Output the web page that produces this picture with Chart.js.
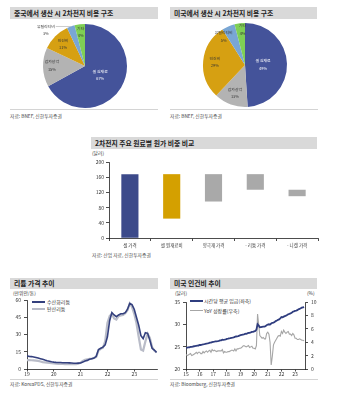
<!DOCTYPE html>
<html><head><meta charset="utf-8">
<script src="https://cdn.jsdelivr.net/npm/chart.js@4.4.0/dist/chart.umd.min.js"></script>
<style>
body{margin:0;width:340px;height:398px;background:#fff;position:relative;overflow:hidden;font-family:"Noto Sans CJK KR","Noto Sans",sans-serif;}
.t{position:absolute;background:#d9d9d9;font-weight:bold;font-size:6.8px;color:#222;padding-left:4px;box-sizing:border-box;white-space:nowrap;display:flex;align-items:center;}
.s{position:absolute;font-size:4.8px;color:#444;white-space:nowrap;line-height:6px}
.u{position:absolute;font-size:4.8px;color:#333;white-space:nowrap;line-height:6px}
.hr{position:absolute;height:0;border-top:0.7px solid #d4d4d4}
canvas{position:absolute}
.lg{position:absolute;font-size:5px;color:#333;line-height:6px;white-space:nowrap}
.ln{position:absolute;height:2px}
</style>
</head><body>
<div class="t" style="left:10px;top:7px;width:148px;height:12px">중국에서 생산 시 2차전지 비용 구조</div>
<div class="t" style="left:170px;top:7px;width:147px;height:12px">미국에서 생산 시 2차전지 비용 구조</div>
<div class="hr" style="left:10px;top:109px;width:148px"></div>
<div class="hr" style="left:170px;top:109px;width:148px"></div>
<div class="s" style="left:10px;top:113px">자료: BNEF, 신한투자증권</div>
<div class="s" style="left:170px;top:113px">자료: BNEF, 신한투자증권</div>

<div class="t" style="left:91px;top:137px;width:226px;height:11.5px">2차전지 주요 원료별 원가 비중 비교</div>
<div class="u" style="left:92px;top:150px">(달러)</div>
<div class="s" style="left:92px;top:252px">자료: 산업 자료, 신한투자증권</div>

<div class="t" style="left:10px;top:277.5px;width:148px;height:11px">리튬 가격 추이</div>
<div class="u" style="left:13px;top:290px">(만위안/톤)</div>
<div class="ln" style="left:32px;top:301px;width:13px;background:#34407e"></div>
<div class="lg" style="left:47px;top:299px">수산화리튬</div>
<div class="ln" style="left:32px;top:308px;width:13px;background:#b9bcc8"></div>
<div class="lg" style="left:47px;top:306px">탄산리튬</div>
<div class="hr" style="left:10px;top:379px;width:148px"></div>
<div class="s" style="left:10px;top:381px">자료: KoreaPDS, 신한투자증권</div>

<div class="t" style="left:170px;top:277.5px;width:147px;height:11px">미국 인건비 추이</div>
<div class="u" style="left:175px;top:290px">(달러)</div>
<div class="u" style="left:307px;top:290px">(%)</div>
<div class="ln" style="left:190px;top:300px;width:13px;background:#2f3d7f"></div>
<div class="lg" style="left:204px;top:298px">시간당 평균 임금(좌축)</div>
<div class="ln" style="left:190px;top:310px;width:13px;height:1.3px;background:#a6a6a6"></div>
<div class="lg" style="left:204px;top:308px">YoY 성장률(우축)</div>
<div class="hr" style="left:170px;top:379px;width:148px"></div>
<div class="s" style="left:170px;top:381px">자료: Bloomberg, 신한투자증권</div>

<script>
// ---------- DATA ----------
const pieLabels = ['셀 원재료','감가상각','인건비','유틸리티비','기타'];
const chinaCost = [67,15,11,3,4];
const usCost = [49,13,29,5,4];

const barCategories = ['셀 가격','셀 원재료비','양극재 가격','- 리튬 가격','- 니켈 가격'];
const barLow = [0,51,96,127,110];
const barHigh = [168,168,168,168,127];
const barTicks = [0,40,80,120,160,200];

const lithiumYears = [2019,2020,2021,2022,2023];
// monthly, Jan 2019 - Nov 2023
const lithiumHydroxide = [
 11.3,11.0,10.8,10.5,10.0,9.5,9.0,8.5,7.8,7.2,6.8,6.3,
 6.0,5.8,5.7,5.6,5.5,5.5,5.4,5.3,5.2,5.0,5.0,5.1,
 5.2,6.0,7.0,7.5,8.5,9.0,9.5,11.0,17.0,18.0,19.0,21.0,
 28.0,42.0,49.0,47.0,45.5,47.0,48.0,48.0,49.0,52.0,57.0,56.0,
 52.0,45.0,38.0,29.0,26.5,31.5,31.0,25.0,18.0,16.5,14.5];
const lithiumCarbonate = [
 7.8,7.7,7.6,7.5,7.3,7.0,6.5,6.0,5.8,5.5,5.3,5.0,
 4.8,4.6,4.5,4.5,4.4,4.3,4.3,4.2,4.2,4.2,4.3,4.6,
 5.5,7.0,8.0,8.5,8.8,9.0,9.5,10.5,16.0,17.5,18.5,24.0,
 40.0,46.0,48.0,44.0,43.0,46.0,46.5,47.0,48.5,51.0,57.0,54.0,
 48.0,40.0,28.0,17.0,16.0,24.0,30.5,27.0,19.0,16.0,14.5];

const wageYears = [2015,2016,2017,2018,2019,2020,2021,2022,2023];
// monthly, Jan 2015 - Sep 2023
const hourlyWage = [
 24.75,24.78,24.85,24.87,24.94,24.95,25.02,25.09,25.11,25.20,25.25,25.26,
 25.39,25.37,25.43,25.51,25.55,25.61,25.69,25.73,25.80,25.91,25.89,26.00,
 26.08,26.12,26.17,26.20,26.24,26.29,26.39,26.42,26.56,26.52,26.57,26.65,
 26.74,26.79,26.85,26.90,26.98,27.03,27.10,27.20,27.28,27.31,27.38,27.48,
 27.56,27.64,27.70,27.76,27.84,27.89,27.97,28.09,28.11,28.20,28.30,28.33,
 28.44,28.51,28.80,30.03,29.72,29.35,29.36,29.45,29.48,29.50,29.58,29.81,
 29.96,30.01,29.95,30.17,30.33,30.40,30.54,30.73,30.85,31.01,31.10,31.31,
 31.63,31.58,31.73,31.85,31.95,32.08,32.27,32.36,32.46,32.58,32.82,32.90,
 33.03,33.09,33.18,33.36,33.44,33.58,33.74,33.82,33.88];
const wageYoY = [
 2.2,2.0,2.1,2.2,2.3,2.0,2.1,2.2,2.3,2.5,2.3,2.5,
 2.5,2.3,2.3,2.6,2.4,2.6,2.7,2.5,2.7,2.8,2.5,2.9,
 2.7,2.8,2.7,2.6,2.7,2.7,2.7,2.7,2.9,2.4,2.6,2.5,
 2.5,2.6,2.6,2.7,2.8,2.8,2.7,3.0,2.7,3.0,3.0,3.1,
 3.1,3.2,3.4,3.5,3.4,3.3,3.4,3.5,3.2,3.3,3.4,3.1,
 3.1,3.0,3.5,8.2,6.6,5.0,4.8,4.6,4.7,4.5,4.5,5.3,
 5.5,5.2,4.0,0.6,1.9,3.6,4.0,4.3,4.6,4.9,5.0,4.9,
 5.6,5.3,5.8,5.5,5.3,5.5,5.6,5.2,5.2,5.0,5.3,5.1,
 4.6,4.6,4.4,4.4,4.5,4.4,4.3,4.3,4.2];

// ---------- STYLE ----------
const FONT = '"Noto Sans CJK KR","Noto Sans",sans-serif';
Chart.defaults.font.family = FONT;
Chart.defaults.font.size = 5;
Chart.defaults.color = '#333';
const pieColors = ['#44539a','#b3b3b3','#d6a012','#79a6d4','#7fcf55'];

function mk(left, top, w, h){
  const c = document.createElement('canvas');
  c.width = w; c.height = h;
  c.style.left = left+'px'; c.style.top = top+'px';
  c.style.width = w+'px'; c.style.height = h+'px';
  document.body.appendChild(c);
  return c;
}

const pieLabelPlugin = {
  id:'pieLabels',
  afterDatasetsDraw(chart, args, opts){
    const ctx = chart.ctx;
    const meta = chart.getDatasetMeta(0);
    const vals = chart.data.datasets[0].data;
    ctx.save();
    ctx.font = '3.9px ' + FONT;
    ctx.textAlign = 'center';
    ctx.textBaseline = 'middle';
    meta.data.forEach((arc, i) => {
      const p = opts.place[i];
      const mid = (arc.startAngle + arc.endAngle)/2;
      const l1 = chart.data.labels[i], l2 = vals[i] + '%';
      let x, y;
      if (p.leader){
        const ex = arc.x + Math.cos(mid)*arc.outerRadius;
        const ey = arc.y + Math.sin(mid)*arc.outerRadius;
        ctx.strokeStyle = '#999'; ctx.lineWidth = 0.5;
        ctx.beginPath(); ctx.moveTo(ex, ey); ctx.lineTo(ex - p.leader, ey); ctx.stroke();
        const w = ctx.measureText(l1).width;
        x = ex - p.leader - 1 - w/2; y = ey + 3.5;
      } else {
        x = arc.x + Math.cos(mid)*arc.outerRadius*p.f + (p.dx||0);
        y = arc.y + Math.sin(mid)*arc.outerRadius*p.f + (p.dy||0);
      }
      ctx.fillStyle = p.c || '#333';
      ctx.fillText(l1, x, y - 3.6);
      ctx.fillText(l2, x, y + 3.6);
    });
    ctx.restore();
  }
};

function pie(canvas, values, place, pad){
  new Chart(canvas, {
    type:'pie',
    data:{labels:pieLabels, datasets:[{data:values, backgroundColor:pieColors, borderWidth:0}]},
    options:{responsive:false, animation:false, layout:{padding:pad},
      plugins:{legend:{display:false}, tooltip:{enabled:false}, pieLabels:{place}}},
    plugins:[pieLabelPlugin]
  });
}

pie(mk(0,20,170,92), chinaCost, [
  {f:0.42, c:'#fff'}, {f:0.79, dy:-1.5}, {f:0.74}, {leader:15}, {f:0.82}
], {top:4,bottom:4});
pie(mk(160,20,170,92), usCost, [
  {f:0.43, c:'#fff'}, {f:0.71}, {f:0.72}, {f:0.74, dx:-9}, {f:0.85, dx:2}
], {top:3,bottom:5});

// ---------- BAR ----------
const axisCommon = {
  grid:{display:true, drawOnChartArea:false, drawTicks:true, tickLength:3, color:'#000', lineWidth:0.7},
  border:{display:true, color:'#000', width:0.7}
};
new Chart(mk(80,155,245,95), {
  type:'bar',
  data:{labels:barCategories, datasets:[{
    data:barLow.map((lo,i)=>[lo, barHigh[i]]),
    backgroundColor:['#3c4a8a','#d4a000','#a9a9a9','#a9a9a9','#a9a9a9'],
    borderWidth:0, barPercentage:0.41, categoryPercentage:1
  }]},
  options:{responsive:false, animation:false, layout:{padding:{top:7,right:7,left:0,bottom:0}},
    plugins:{legend:{display:false}, tooltip:{enabled:false}},
    scales:{
      x:{...axisCommon, grid:{...axisCommon.grid, offset:true}, ticks:{font:{size:4.5}, padding:1.5, maxRotation:0, autoSkip:false},
         afterFit:s=>{s.height=12;}},
      y:{...axisCommon, min:0, max:200, afterBuildTicks:s=>{s.ticks = barTicks.map(v=>({value:v}));},
         ticks:{font:{size:5}, padding:2}, afterFit:s=>{s.width=29;}}
    }}
});

// ---------- LITHIUM ----------
function monthly(start, arr){ return arr.map((v,i)=>({x:start + i/12, y:v})); }
new Chart(mk(0,290,165,91), {
  type:'line',
  data:{datasets:[
    {data:monthly(2019, lithiumHydroxide), borderColor:'#34407e', borderWidth:1.6, pointRadius:0, tension:0},
    {data:monthly(2019, lithiumCarbonate), borderColor:'#b9bcc8', borderWidth:2.2, pointRadius:0, tension:0}
  ]},
  options:{responsive:false, animation:false, layout:{padding:{top:10,right:8,left:0,bottom:0}},
    plugins:{legend:{display:false}, tooltip:{enabled:false}},
    scales:{
      x:{type:'linear', ...axisCommon, grid:{...axisCommon.grid, tickLength:2.5}, min:2019, max:2023.85,
         afterBuildTicks:s=>{s.ticks = lithiumYears.map(v=>({value:v}));},
         ticks:{padding:0, maxRotation:0, callback:v=>String(v).slice(2)}, afterFit:s=>{s.height=12;}},
      y:{...axisCommon, min:0, max:60, ticks:{stepSize:15, padding:3}, afterFit:s=>{s.width=27;}}
    }}
});

// ---------- WAGE ----------
new Chart(mk(165,290,165,91), {
  type:'line',
  data:{datasets:[
    {data:monthly(2015, hourlyWage), yAxisID:'y', borderColor:'#2f3d7f', borderWidth:1.8, pointRadius:0, tension:0},
    {data:monthly(2015, wageYoY), yAxisID:'y2', borderColor:'#a6a6a6', borderWidth:1.1, pointRadius:0, tension:0}
  ]},
  options:{responsive:false, animation:false, layout:{padding:{top:12,right:0,left:0,bottom:0}},
    plugins:{legend:{display:false}, tooltip:{enabled:false}},
    scales:{
      x:{type:'linear', ...axisCommon, grid:{...axisCommon.grid, tickLength:2.5}, min:2015, max:2023.73,
         afterBuildTicks:s=>{s.ticks = wageYears.map(v=>({value:v}));},
         ticks:{padding:0, maxRotation:0, callback:v=>String(v).slice(2)}, afterFit:s=>{s.height=12;}},
      y:{...axisCommon, position:'left', min:20, max:35, ticks:{stepSize:5, padding:3}, afterFit:s=>{s.width=21;}},
      y2:{...axisCommon, position:'right', min:0, max:10, ticks:{stepSize:2, padding:3}, afterFit:s=>{s.width=25;}}
    }}
});
</script>
</body></html>
